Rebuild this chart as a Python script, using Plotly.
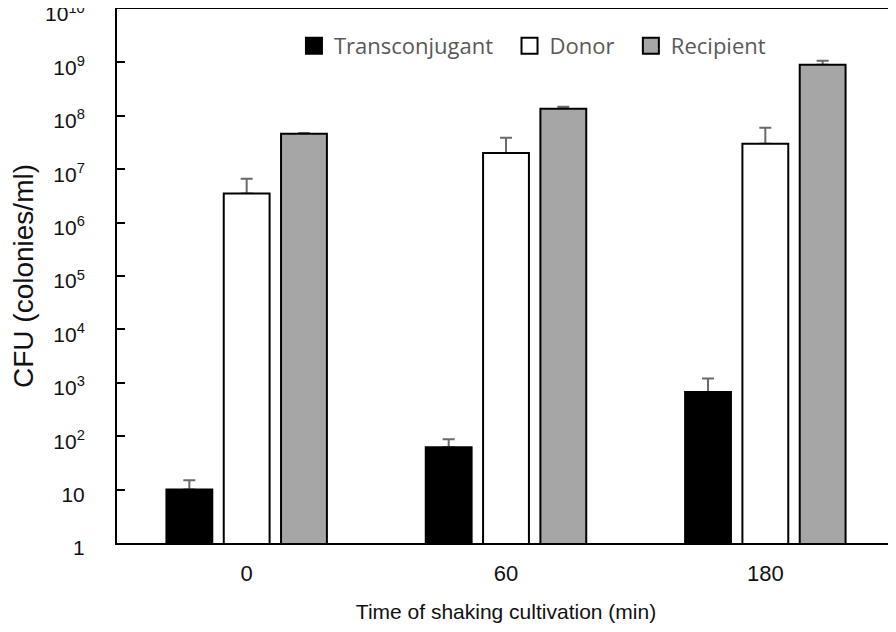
import plotly.graph_objects as go

times = ["0", "60", "180"]
transconjugant = [10, 62, 670]
transconjugant_err = [5, 26, 530]
donor = [3.5e6, 2.0e7, 3.0e7]
donor_err = [3.1e6, 1.9e7, 3.0e7]
recipient = [4.6e7, 1.35e8, 9.0e8]
recipient_err = [1.5e6, 1.3e7, 1.7e8]

tick_vals = [1, 10, 1e2, 1e3, 1e4, 1e5, 1e6, 1e7, 1e8, 1e9, 1e10]
tick_text = ["1", "10"] + [f"10<sup>{i}</sup>" for i in range(2, 11)]
minor_vals = [m * 10 ** d for d in range(10) for m in range(2, 10)]

NB = "\u00a0"
series = [
    ("Transconjugant", transconjugant, transconjugant_err, "black", NB * 2),
    ("Donor", donor, donor_err, "white", NB * 2),
    ("Recipient", recipient, recipient_err, "#a6a6a6", ""),
]

fig = go.Figure()
# error bars first, so the real bars cover the lower cap
for i, (name, vals, errs, color, pad) in enumerate(series):
    fig.add_trace(go.Bar(
        x=times, y=vals, offsetgroup=str(i), showlegend=False, hoverinfo="skip",
        marker=dict(color="rgba(0,0,0,0)", line=dict(width=0)),
        error_y=dict(type="data", array=errs, arrayminus=[0] * len(errs),
                     symmetric=False, color="#6a6a6a", thickness=2, width=6),
    ))
for i, (name, vals, errs, color, pad) in enumerate(series):
    fig.add_trace(go.Bar(
        x=times, y=vals, name=name, offsetgroup=str(i), showlegend=False,
        marker=dict(color=color, line=dict(color="black", width=2)),
    ))
# legend entries with bigger squares
for name, vals, errs, color, pad in series:
    fig.add_trace(go.Scatter(
        x=[times[0]], y=[None], mode="markers", name=name + pad,
        marker=dict(symbol="square", size=16, color=color,
                    line=dict(color="black", width=2)),
    ))

FONT = "Liberation Sans, Arial, sans-serif"

fig.update_layout(
    width=888, height=624,
    margin=dict(l=109, r=1, t=1, b=89),
    plot_bgcolor="white", paper_bgcolor="white",
    barmode="group", bargap=0.337, bargroupgap=0.2,
    font=dict(family=FONT, color="#111111", size=20),
    legend=dict(orientation="h", x=0.534, xanchor="center", y=0.970, yanchor="top",
                font=dict(family="Open Sans, sans-serif", size=22, color="#595959"),
                itemwidth=30, traceorder="normal"),
    yaxis2=dict(type="log", range=[0, 10], overlaying="y", side="left",
                tickmode="array", tickvals=minor_vals, showticklabels=False,
                ticks="inside", ticklen=5, tickwidth=1, tickcolor="black",
                showgrid=False, zeroline=False, showline=False, automargin=False),
)
fig.update_xaxes(
    showline=True, linecolor="black", linewidth=2, mirror=True,
    ticks="", automargin=False, ticklabelstandoff=10,
    tickfont=dict(family=FONT, size=22),
    title=dict(text="Time of shaking cultivation (min)", standoff=19,
               font=dict(family=FONT, size=21)),
)
fig.update_yaxes(
    type="log", range=[0, 10],
    showline=True, linecolor="black", linewidth=2, mirror=True,
    showgrid=False, zeroline=False, automargin=False,
    tickmode="array", tickvals=tick_vals, ticktext=tick_text,
    ticks="inside", ticklen=8, tickwidth=2, tickcolor="black",
    ticklabeloverflow="allow", ticklabelstandoff=26, ticklabelshift=5,
    tickfont=dict(size=21),
    title=dict(text="CFU (colonies/ml)", font=dict(size=28)),
)
fig.layout.yaxis2.showline = False

fig.write_html(
    "out.html",
    post_script="document.querySelectorAll('.main-svg').forEach(function(s){s.style.overflow='visible';});",
)
